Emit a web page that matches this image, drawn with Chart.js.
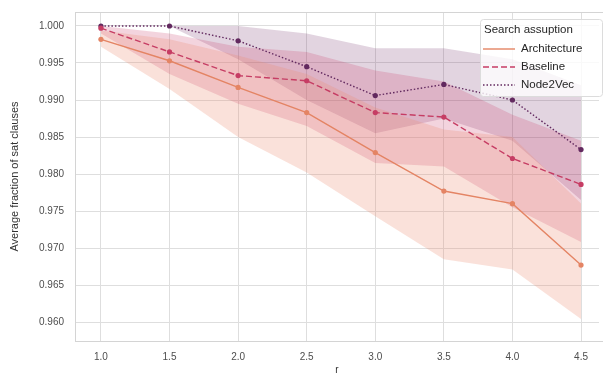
<!DOCTYPE html>
<html>
<head>
<meta charset="utf-8">
<script src="https://cdn.jsdelivr.net/npm/chart.js@4"></script>
<style>
  html, body { margin: 0; padding: 0; background: #fff; }
  #box { width: 603px; height: 376px; }
</style>
</head>
<body>
<div id="box"><canvas id="graph"></canvas></div>
<script>
// values
var rValues = [1.0, 1.5, 2.0, 2.5, 3.0, 3.5, 4.0, 4.5];
var seriesNames = ["Architecture", "Baseline", "Node2Vec"];

var archMean  = [0.9982, 0.9953, 0.9917, 0.9883, 0.9829, 0.9777, 0.9760, 0.9677];
var archLow   = [0.9972, 0.9915, 0.9850, 0.9802, 0.9743, 0.9685, 0.9671, 0.9604];
var archHigh  = [0.9994, 0.9982, 0.9960, 0.9935, 0.9890, 0.9860, 0.9850, 0.9760];

var baseMean  = [0.9997, 0.9965, 0.9933, 0.9926, 0.9883, 0.9877, 0.9821, 0.9786];
var baseLow   = [0.9990, 0.9935, 0.9895, 0.9865, 0.9815, 0.9810, 0.9755, 0.9708];
var baseHigh  = [1.0000, 0.9990, 0.9972, 0.9965, 0.9940, 0.9925, 0.9880, 0.9845];

var nodeMean  = [1.0000, 1.0000, 0.9980, 0.9945, 0.9906, 0.9921, 0.9900, 0.9833];
var nodeLow   = [1.0000, 1.0000, 0.9955, 0.9900, 0.9855, 0.9875, 0.9845, 0.9765];
var nodeHigh  = [1.0000, 1.0000, 1.0000, 0.9990, 0.9970, 0.9970, 0.9955, 0.9920];

var xTicks = [1.0, 1.5, 2.0, 2.5, 3.0, 3.5, 4.0, 4.5];
var yTicks = [0.960, 0.965, 0.970, 0.975, 0.980, 0.985, 0.990, 0.995, 1.000];

var couleurs = ["#e48464", "#c63d64", "#62295f"];
var bandes = ["rgba(236,140,112,0.26)", "rgba(200,60,105,0.22)", "rgba(110,40,100,0.20)"];
var tirets = [[], [6, 3], [1.5, 2]];

function points(vals) {
    var res = [];
    for (let i = 0; i < rValues.length; i++) {
        res.push({ x: rValues[i], y: vals[i] });
    }
    return res;
}

var moyennes = [archMean, baseMean, nodeMean];
var basses = [archLow, baseLow, nodeLow];
var hautes = [archHigh, baseHigh, nodeHigh];

var datasets = [];
// bands first (upper filled to lower)
for (let s = 0; s < 3; s++) {
    datasets.push({
        label: "haut" + s,
        data: points(hautes[s]),
        borderWidth: 0,
        pointRadius: 0,
        backgroundColor: bandes[s],
        fill: "+1",
        order: 10
    });
    datasets.push({
        label: "bas" + s,
        data: points(basses[s]),
        borderWidth: 0,
        pointRadius: 0,
        fill: false,
        order: 10
    });
}
for (let s = 0; s < 3; s++) {
    datasets.push({
        label: seriesNames[s],
        data: points(moyennes[s]),
        borderColor: couleurs[s],
        backgroundColor: couleurs[s],
        borderWidth: 1.4,
        borderDash: tirets[s],
        pointRadius: 2.6,
        pointBorderWidth: 0,
        fill: false,
        order: 1
    });
}

// frame around the plot + legend inside
var cadrePlugin = {
    id: "cadre",
    afterDatasetsDraw: function(chart) {
        var ctx = chart.ctx;
        var a = chart.chartArea;
        ctx.save();
        ctx.strokeStyle = "#d4d4d4";
        ctx.lineWidth = 1;
        ctx.strokeRect(a.left + 0.5, a.top + 0.5, a.right - a.left + 4, a.bottom - a.top);

        // legend
        var lx = 480, ly = 19, lw = 122, lh = 77;
        ctx.fillStyle = "rgba(255,255,255,0.8)";
        ctx.strokeStyle = "#dcdcdc";
        ctx.beginPath();
        ctx.roundRect(lx + 0.5, ly + 0.5, lw, lh, 3);
        ctx.fill();
        ctx.stroke();
        ctx.fillStyle = "#262626";
        ctx.font = "11.5px 'Liberation Sans', Arial, sans-serif";
        ctx.textBaseline = "middle";
        ctx.textAlign = "left";
        ctx.fillText("Search assuption", lx + 4, ly + 11);
        var rows = [49, 67, 85];
        for (let i = 0; i < 3; i++) {
            ctx.strokeStyle = couleurs[i];
            ctx.lineWidth = 1.4;
            ctx.setLineDash(tirets[i]);
            ctx.beginPath();
            ctx.moveTo(483, rows[i]);
            ctx.lineTo(515, rows[i]);
            ctx.stroke();
            ctx.setLineDash([]);
            ctx.fillStyle = "#262626";
            ctx.fillText(seriesNames[i], 521, rows[i]);
        }
        ctx.restore();
    }
};

var ctx = document.getElementById("graph").getContext("2d");
var chart = new Chart(ctx, {
    type: "line",
    data: { datasets: datasets },
    plugins: [cadrePlugin],
    options: {
        responsive: true,
        maintainAspectRatio: false,
        animation: false,
        layout: { padding: { top: 12, right: 0, left: 0, bottom: 0 } },
        plugins: {
            legend: { display: false },
            tooltip: { enabled: false }
        },
        scales: {
            x: {
                type: "linear",
                min: 0.811,
                max: 4.631,
                afterBuildTicks: function(scale) {
                    scale.ticks = xTicks.map(function(v) { return { value: v }; });
                },
                afterFit: function(scale) {
                    scale.height = 35;
                    scale.paddingLeft = 0;
                    scale.paddingRight = 0;
                },
                grid: { color: "#dedede", drawTicks: false },
                border: { display: false },
                ticks: {
                    padding: 10,
                    color: "#4d4d4d",
                    font: { family: "'Liberation Sans', Arial, sans-serif", size: 10 },
                    callback: function(v) { return v.toFixed(1); }
                },
                title: {
                    display: true,
                    text: "r",
                    color: "#333",
                    padding: { top: 2, bottom: 0 },
                    font: { family: "'Liberation Sans', Arial, sans-serif", size: 10 }
                }
            },
            y: {
                type: "linear",
                min: 0.95744,
                max: 1.00189,
                afterBuildTicks: function(scale) {
                    scale.ticks = yTicks.map(function(v) { return { value: v }; });
                },
                afterFit: function(scale) {
                    scale.width = 75;
                    scale.paddingTop = 0;
                    scale.paddingBottom = 0;
                },
                grid: { color: "#dedede", drawTicks: false },
                border: { display: false },
                ticks: {
                    padding: 11,
                    color: "#4d4d4d",
                    font: { family: "'Liberation Sans', Arial, sans-serif", size: 10 },
                    callback: function(v) { return v.toFixed(3); }
                },
                title: {
                    display: true,
                    text: "Average fraction of sat clauses",
                    color: "#333",
                    padding: { top: 8, bottom: 0 },
                    font: { family: "'Liberation Sans', Arial, sans-serif", size: 11 }
                }
            }
        }
    }
});
</script>
</body>
</html>
